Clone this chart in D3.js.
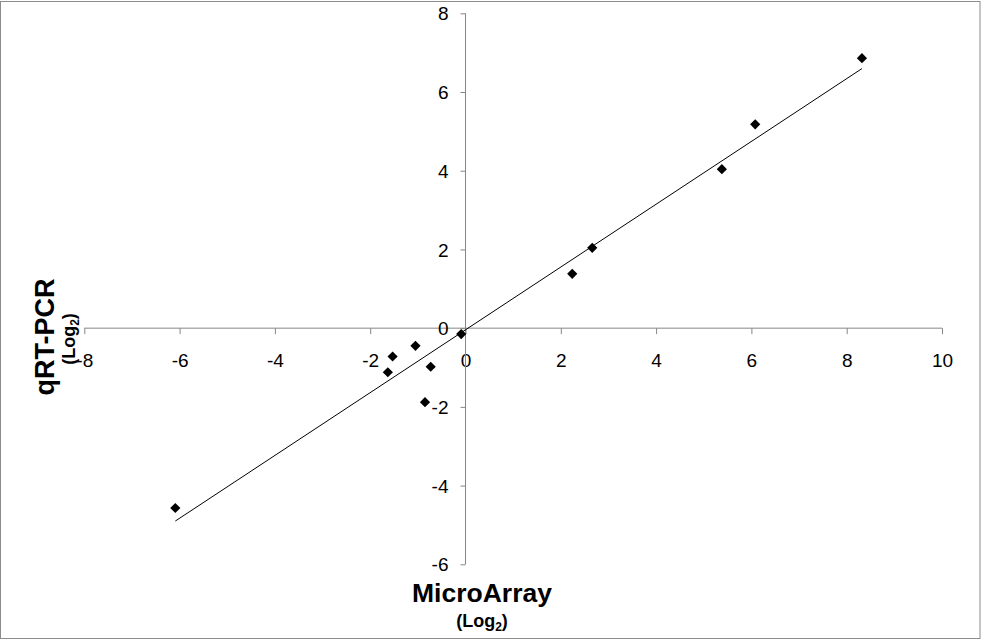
<!DOCTYPE html>
<html>
<head>
<meta charset="utf-8">
<script src="https://cdn.jsdelivr.net/npm/d3@7"></script>
<style>
  html, body { margin: 0; padding: 0; background: #fff; }
  svg { display: block; font-family: "Liberation Sans", Arial, sans-serif; }
</style>
</head>
<body>
<svg id="chart" width="982" height="641"></svg>
<script>
// ---- data ----
const microArray = [-6.09, -1.63, -1.53, -1.05, -0.73, -0.85, -0.09, 2.24, 2.66, 5.38, 6.08, 8.32];
const qrtPcr     = [-4.57, -1.12, -0.72, -0.45, -0.98, -1.88, -0.15, 1.38, 2.04, 4.04, 5.18, 6.86];
const xTicks = [-8, -6, -4, -2, 0, 2, 4, 6, 8, 10];
const yTicks = [-6, -4, -2, 0, 2, 4, 6, 8];
const xTitle = "MicroArray";
const yTitle = "qRT-PCR";

const svg = d3.select("#chart");
const axisColor = "#868686";
const fmt = d => String(d);

// border
svg.append("rect").attr("x", 0.5).attr("y", 1.5).attr("width", 979.5).attr("height", 637)
  .attr("fill", "none").attr("stroke", "#8c8c8c").attr("stroke-width", 1);

const x = d3.scaleLinear().domain([-8, 10]).range([84.3, 942]);
const y = d3.scaleLinear().domain([-6, 8]).range([564.3, 13.3]);
const x0 = x(0), y0 = y(0);

// x axis
const gx = svg.append("g").attr("transform", `translate(0,${y0})`)
  .call(d3.axisBottom(x).tickValues(xTicks).tickSize(6).tickSizeOuter(0).tickFormat(fmt));
gx.select(".domain").attr("stroke", axisColor).attr("d", `M${x(-8)},0H${x(10)}`);
gx.selectAll(".tick line").attr("stroke", axisColor);
gx.selectAll(".tick text").attr("fill", "#000").attr("font-size", 19)
  .attr("y", 38.5).attr("dy", 0).attr("font-family", "'Liberation Sans', Arial, sans-serif");

// y axis
const gy = svg.append("g").attr("transform", `translate(${x0},0)`)
  .call(d3.axisLeft(y).tickValues(yTicks).tickSize(5).tickSizeOuter(0).tickFormat(fmt));
gy.select(".domain").attr("stroke", axisColor).attr("d", `M0,${y(8)}V${y(-6)}`);
gy.selectAll(".tick line").attr("stroke", axisColor);
gy.selectAll(".tick text").attr("fill", "#000").attr("font-size", 19)
  .attr("x", -17).attr("dy", "0.35em").attr("font-family", "'Liberation Sans', Arial, sans-serif");

// trendline (least squares)
const n = microArray.length;
const mx = d3.mean(microArray), my = d3.mean(qrtPcr);
let sxy = 0, sxx = 0;
for (let i = 0; i < n; i++) { sxy += (microArray[i]-mx)*(qrtPcr[i]-my); sxx += (microArray[i]-mx)**2; }
const slope = sxy / sxx, icpt = my - slope * mx;
const [xmin, xmax] = d3.extent(microArray);
svg.append("line")
  .attr("x1", x(xmin)).attr("y1", y(slope*xmin+icpt))
  .attr("x2", x(xmax)).attr("y2", y(slope*xmax+icpt))
  .attr("stroke", "#000").attr("stroke-width", 1);

// points
const pts = microArray.map((v, i) => ({ x: v, y: qrtPcr[i] }));
const diamond = d3.symbol().type(d3.symbolSquare).size(52);
svg.append("g").selectAll("path").data(pts).join("path")
  .attr("d", diamond)
  .attr("transform", d => `translate(${x(d.x)},${y(d.y)}) rotate(45)`)
  .attr("fill", "#000");

// titles
svg.append("text").attr("x", 482).attr("y", 601.5).attr("text-anchor", "middle")
  .attr("font-weight", "bold").attr("font-size", 26.5).text(xTitle);
const xs = svg.append("text").attr("x", 482).attr("y", 626.5).attr("text-anchor", "middle")
  .attr("font-weight", "bold").attr("font-size", 18);
xs.append("tspan").text("(Log");
xs.append("tspan").attr("font-size", 12).attr("dy", 4).text("2");
xs.append("tspan").attr("dy", -4).text(")");

svg.append("text").attr("transform", "translate(53.5,337) rotate(-90)").attr("text-anchor", "middle")
  .attr("font-weight", "bold").attr("font-size", 27).text(yTitle);
const ys = svg.append("text").attr("transform", "translate(75,339) rotate(-90)").attr("text-anchor", "middle")
  .attr("font-weight", "bold").attr("font-size", 18);
ys.append("tspan").text("(Log");
ys.append("tspan").attr("font-size", 12).attr("dy", 4).text("2");
ys.append("tspan").attr("dy", -4).text(")");
</script>
</body>
</html>
